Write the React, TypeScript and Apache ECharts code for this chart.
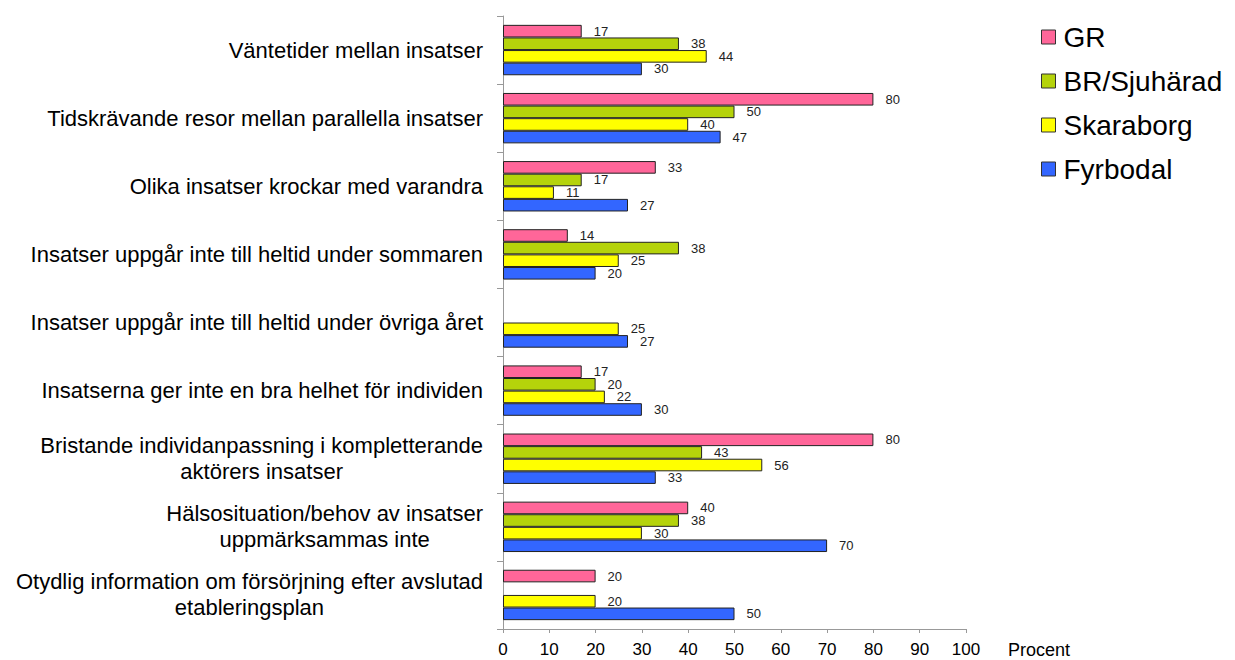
import React, { useEffect, useRef } from "react";
import * as echarts from "echarts";

const categories = [
  "Väntetider mellan insatser",
  "Tidskrävande resor mellan parallella insatser",
  "Olika insatser krockar med varandra",
  "Insatser uppgår inte till heltid under sommaren",
  "Insatser uppgår inte till heltid under övriga året",
  "Insatserna ger inte en bra helhet för individen",
  "Bristande individanpassning i kompletterande\naktörers insatser",
  "Hälsosituation/behov av insatser\nuppmärksammas inte",
  "Otydlig information om försörjning efter avslutad\netableringsplan",
];

const seriesNames = ["GR", "BR/Sjuhärad", "Skaraborg", "Fyrbodal"];
const grValues = [17, 80, 33, 14, null, 17, 80, 40, 20];
const brValues = [38, 50, 17, 38, null, 20, 43, 38, null];
const skaraborgValues = [44, 40, 11, 25, 25, 22, 56, 30, 20];
const fyrbodalValues = [30, 47, 27, 20, 27, 30, 33, 70, 50];
const seriesColors = ["#ff6699", "#b5d30b", "#ffff00", "#3366ff"];
const xTicks = [0, 10, 20, 30, 40, 50, 60, 70, 80, 90, 100];

export default function App() {
  const ref = useRef<HTMLDivElement>(null);
  useEffect(() => {
    if (!ref.current) return;
    const chart = echarts.init(ref.current, null, { renderer: "svg" });
    const allValues = [grValues, brValues, skaraborgValues, fyrbodalValues];
    const font = "Liberation Sans, Arial, sans-serif";
    chart.setOption({
      animation: false,
      textStyle: { fontFamily: font },
      legend: {
        orient: "vertical",
        left: 1036,
        top: 17,
        icon: "rect",
        itemWidth: 14,
        itemHeight: 14,
        itemGap: 14,
        data: seriesNames,
        itemStyle: { borderColor: "#333", borderWidth: 1 },
        textStyle: { fontSize: 28, color: "#000", fontFamily: font, padding: [0, 0, 0, 3], lineHeight: 30 },
      },
      grid: { left: 503, right: 269, top: 16, bottom: 31, containLabel: false, outerBoundsMode: "none" },
      xAxis: {
        type: "value",
        min: xTicks[0],
        max: xTicks[xTicks.length - 1],
        interval: 10,
        name: "Procent",
        nameLocation: "end",
        nameGap: 42,
        nameTextStyle: { fontSize: 18, lineHeight: 18, color: "#000", verticalAlign: "top", padding: [12, 0, 0, 0] },
        axisLine: { show: true, lineStyle: { color: "#999" } },
        axisTick: { show: true, length: 4, lineStyle: { color: "#999" } },
        axisLabel: { fontSize: 17, color: "#000", margin: 12 },
        splitLine: { show: false },
      },
      yAxis: {
        type: "category",
        inverse: true,
        data: categories,
        axisLine: { show: true, lineStyle: { color: "#999" } },
        axisTick: { show: true, length: 6, lineStyle: { color: "#999" } },
        axisLabel: {
          fontSize: 22,
          color: "#000",
          margin: 20,
          lineHeight: 26,
          formatter: (v: string) =>
            v
              .split("\n")
              .map((l) => "{c|" + l + "}")
              .join("\n"),
          rich: { c: { align: "center", fontSize: 22, lineHeight: 26, color: "#000" } },
        },
      },
      series: seriesNames.map((name, i) => ({
        name,
        type: "bar",
        data: allValues[i],
        barGap: "0%",
        barCategoryGap: "26%",
        itemStyle: { color: seriesColors[i], borderColor: "#222", borderWidth: 1 },
        label: {
          show: true,
          position: "right",
          distance: 12,
          fontSize: 13,
          color: "#222",
        },
      })),
    });
    return () => chart.dispose();
  }, []);
  return <div ref={ref} style={{ width: 1235, height: 660, position: "absolute", left: 0, top: 0 }} />;
}
